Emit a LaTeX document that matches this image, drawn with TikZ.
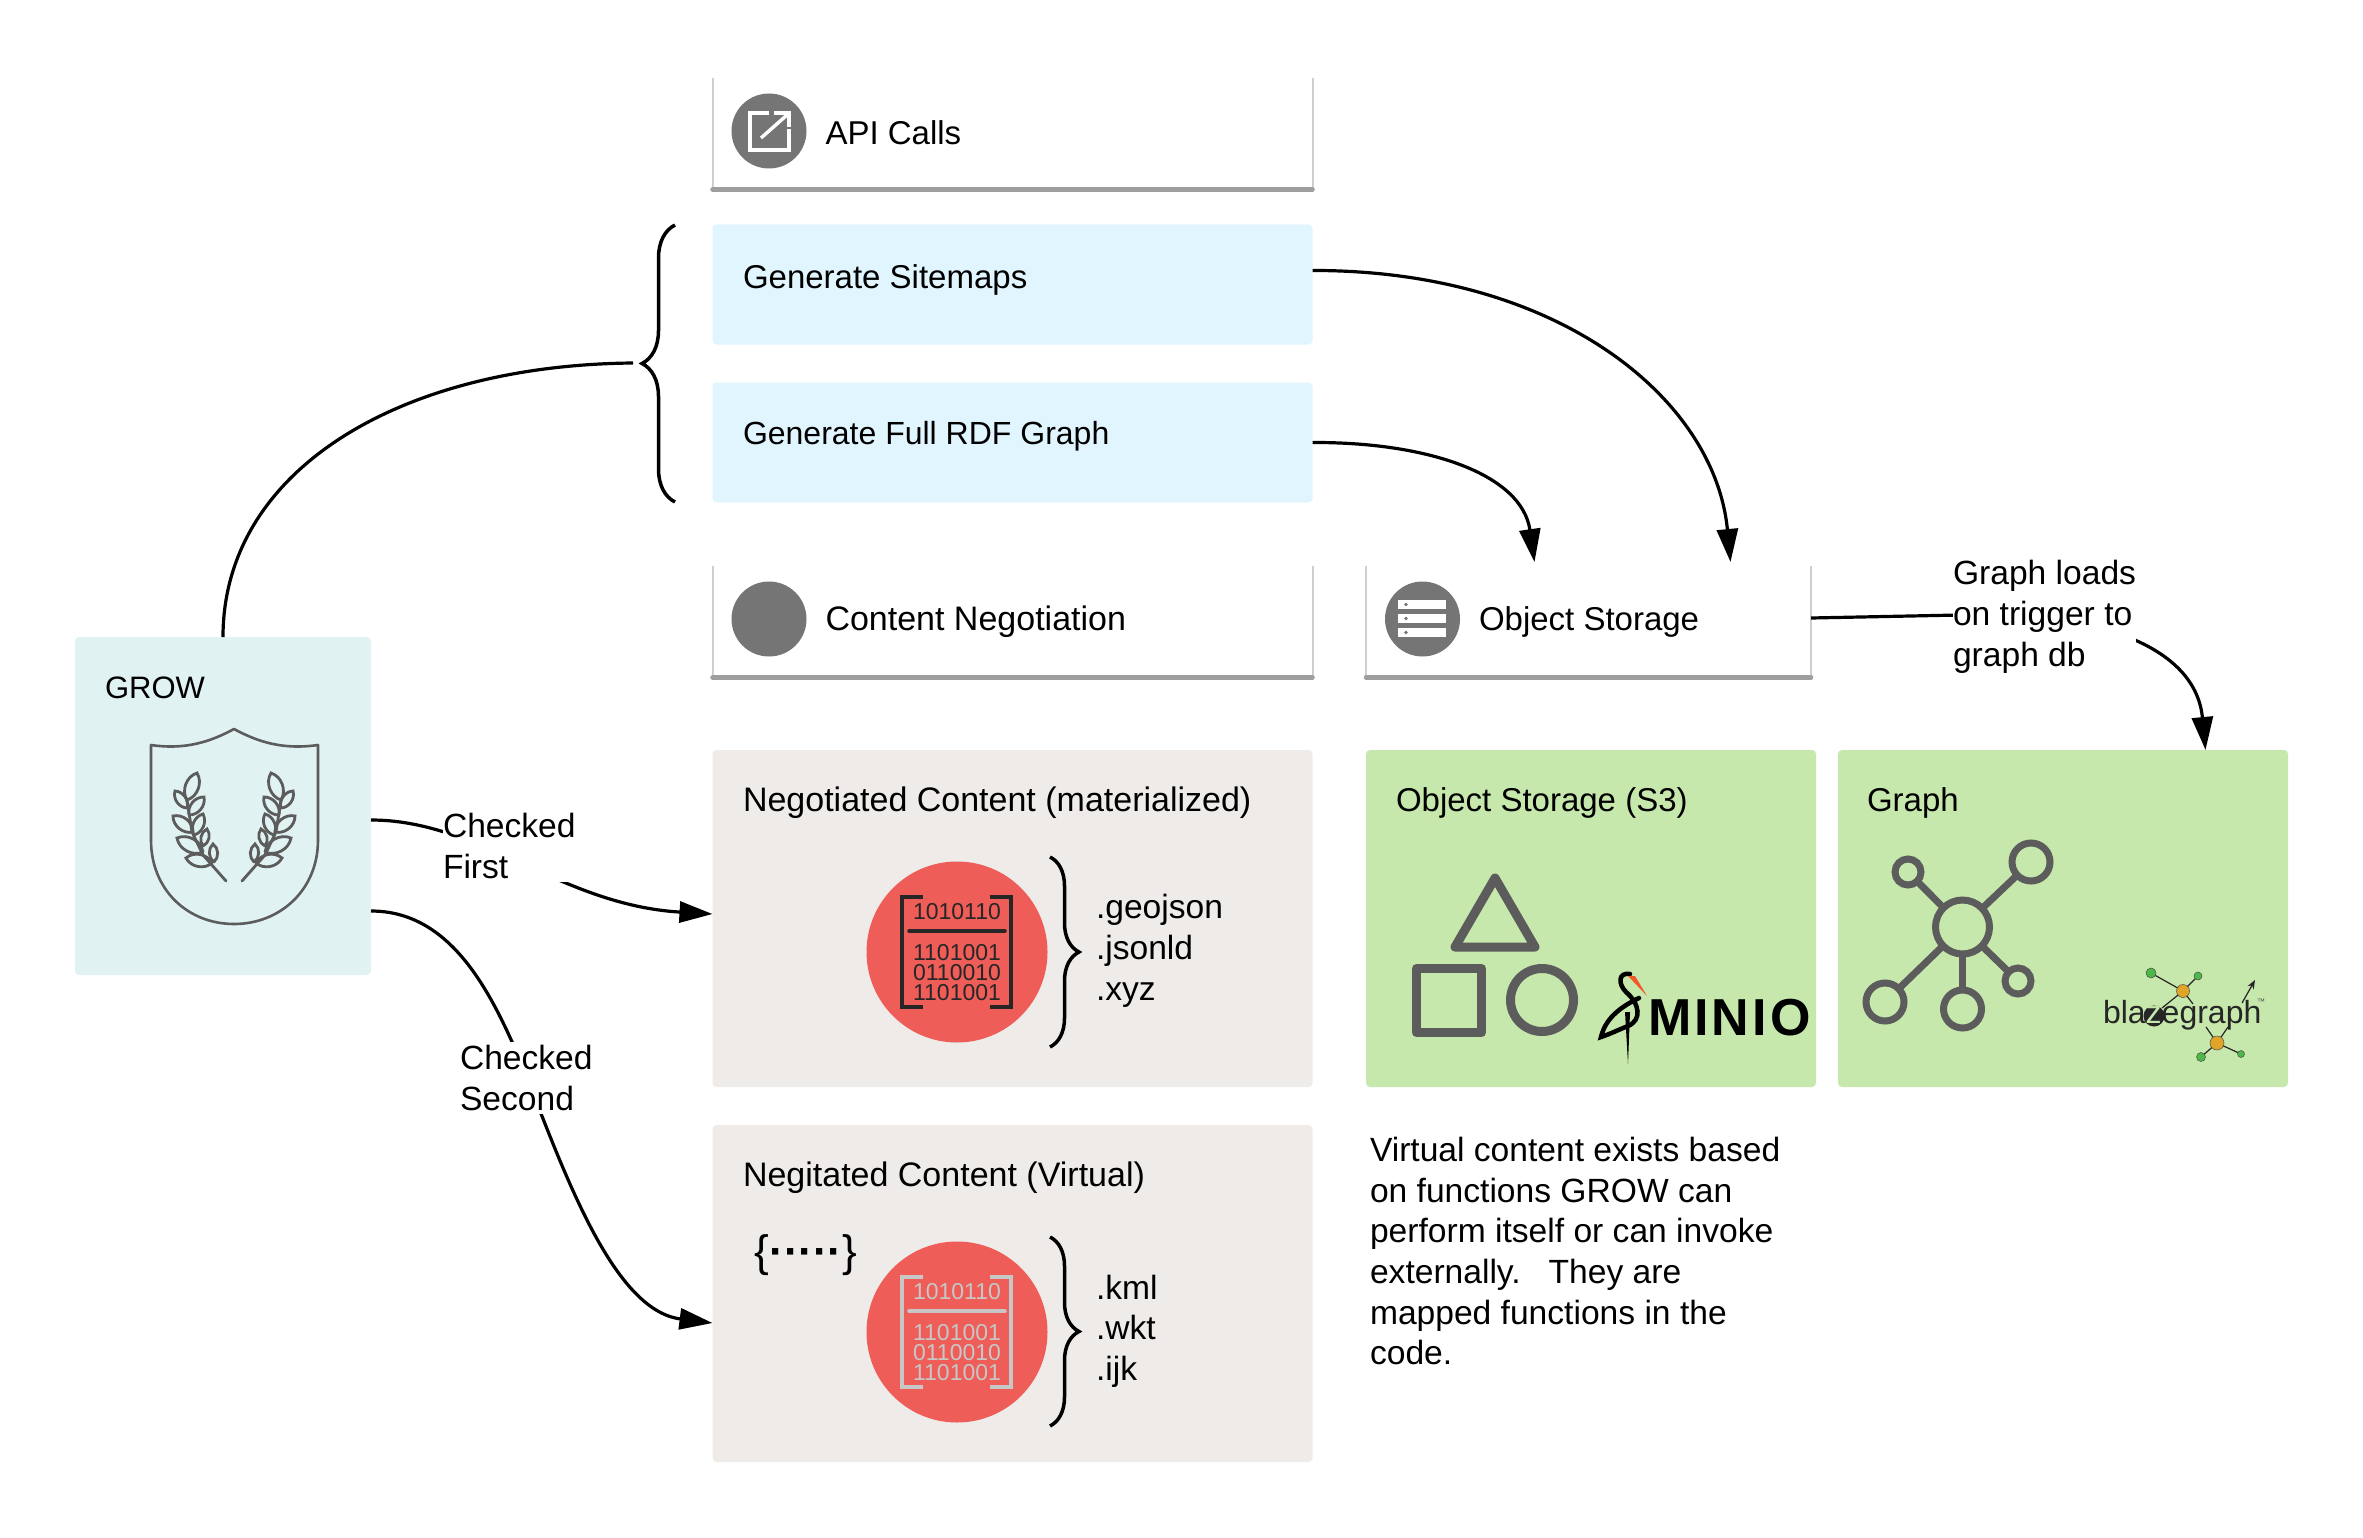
\documentclass[tikz,border=0pt]{standalone}
\usepackage{fontspec}
\setmainfont{Liberation Sans}
\usetikzlibrary{positioning, arrows.meta, calc, decorations.pathreplacing}
\definecolor{GrowTeal}{HTML}{E0F2F1}
\definecolor{ActionBlue}{HTML}{E1F5FE}
\definecolor{ContentGrey}{HTML}{EFEBE9}
\definecolor{StoreGreen}{HTML}{C7E8AC}
\definecolor{DiscRed}{HTML}{EE5D57}
\definecolor{IconGrey}{HTML}{757575}
\definecolor{ShapeGrey}{HTML}{5C5C5C}
\definecolor{EdgeGrey}{HTML}{9E9E9E}
\definecolor{SideGrey}{HTML}{CFCFCF}
\definecolor{BlazeOrange}{HTML}{E0A526}
\definecolor{BlazeGreen}{HTML}{4DB848}
\definecolor{BeakOrange}{HTML}{F0592A}

\begin{document}
\begin{tikzpicture}[
    x=1pt, y=-1pt,
    every node/.style={inner sep=0pt, outer sep=0pt},
    panel/.style={rounded corners=4pt, minimum width=600pt},
    actionbox/.style={panel, fill=ActionBlue, minimum height=120pt},
    contentbox/.style={panel, fill=ContentGrey, minimum height=337pt},
    storebox/.style={panel, fill=StoreGreen, minimum width=450pt, minimum height=337pt},
    growbox/.style={panel, fill=GrowTeal, minimum width=296pt, minimum height=338pt},
    card/.style={fill=white, minimum width=600pt, minimum height=114pt},
    carddisc/.style={circle, fill=IconGrey, minimum size=75pt},
    title/.style={font=\fontsize{33}{40}\selectfont, anchor=base west},
    titlewide/.style={title, font=\fontsize{34}{40}\selectfont},
    cardtitle/.style={font=\fontsize{33}{40}\selectfont},
    note/.style={font=\fontsize{33.6}{40.7}\selectfont, align=left},
    label/.style={note, fill=white, anchor=west, inner ysep=3pt},
    arr/.style={-{Stealth[length=33pt, width=21pt, inset=0pt]}, line width=3.2pt},
    plainedge/.style={line width=3.2pt},
    curly/.style={decorate, line width=3.5pt, decoration={brace, amplitude=33pt}},
    curlysmall/.style={curly, decoration={brace, amplitude=29pt}},
    bits/.style={font=\fontsize{23}{23}\selectfont},
    shapeline/.style={draw=ShapeGrey, line width=9pt, line join=round},
    hubnode/.style={circle, draw=ShapeGrey, line width=7pt, fill=StoreGreen},
    blazeedge/.style={line width=1.2pt, draw=black!85},
    blazehub/.style={circle, fill=BlazeOrange, draw=black!70, line width=0.5pt},
    blazeleaf/.style={circle, fill=BlazeGreen, draw=black!70, line width=0.5pt},
    wheat/.style={draw=ShapeGrey, line width=2.8pt, line cap=round}
]
\useasboundingbox (0,0) rectangle (2363,1538);

% Cards with a top open edge
\node[card] (apicard) at (1012.5,131) {};
\node[card] (negcard) at (1012.5,619) {};
\node[card, minimum width=445pt] (objcard) at (1588.5,619) {};
\foreach \c in {apicard, negcard, objcard} {
    \draw[SideGrey, line width=2pt] ([yshift=-4pt]\c.north west) -- (\c.south west);
    \draw[SideGrey, line width=2pt] ([yshift=-4pt]\c.north east) -- (\c.south east);
    \draw[EdgeGrey, line width=4.5pt, line cap=round] ([yshift=-1.5pt]\c.south west) -- ([yshift=-1.5pt]\c.south east);
}
\node[carddisc, right=19pt of apicard.west] (apidisc) {};
\node[cardtitle, right=19pt of apidisc, yshift=-1.5pt] (apitext) {API Calls};
\node[carddisc, right=19pt of negcard.west] (negdisc) {};
\node[cardtitle, font=\fontsize{34}{40}\selectfont, right=19pt of negdisc, yshift=-3pt] (negtext) {Content Negotiation};
\node[carddisc, right=19pt of objcard.west] (objdisc) {};
\node[cardtitle, right=19pt of objdisc, yshift=-3pt] (objtext) {Object Storage};

% API icon
\draw[white, line width=3.4pt] (769,113) -- (750,113) -- (750,150) -- (789,150) -- (789,129);
\draw[white, line width=3.4pt] (761,138) -- (787,115);
\draw[white, line width=3.4pt] (774,113) -- (789,113) -- (789,127);

% Server icon
\foreach \ry in {604.5, 618.5, 632.5} {
    \fill[white] (1398,\ry-4.5) rectangle (1446,\ry+4.5);
    \fill[IconGrey] (1406,\ry) circle (1.8);
}

% Action boxes
\node[actionbox] (sitemaps) at (1012.5,284.5) {};
\node[actionbox, below=38pt of sitemaps] (rdf) {};
\node[title] (sitemapstext) at (743,288) {Generate Sitemaps};
\node[title, font=\fontsize{32}{40}\selectfont] (rdftext) at (743,444) {Generate Full RDF Graph};
\draw[curly] (675,502) -- (675,225);
\coordinate (bracetip) at (633,363);

% Grow
\node[growbox] (grow) at (223,806) {};
\node[title, font=\fontsize{31}{40}\selectfont] (growtext) at (105,698) {GROW};
\draw[draw=ShapeGrey, line width=2.6pt, line join=round] (151,745) .. controls (185,750) and (210,742) .. (234,729)
    .. controls (258,742) and (283,750) .. (318,745) -- (318,840)
    .. controls (318,890) and (280,924) .. (234,924) .. controls (188,924) and (151,890) .. (151,840) -- cycle;
\foreach \sx/\fx in {0/1, 468/-1} {
    \begin{scope}[shift={(\sx,0)}, xscale=\fx]
        \draw[wheat] (226,881) -- (203,855) -- (192,832) -- (187,800);
        \foreach \bx/\by/\tx/\ty in {187/800/197/773, 187/808/175/791, 189/815/204/797, 193/832/173/816,
            194/835/203/814, 203/852/177/838, 203/846/207/829, 212/863/186/858, 214/862/213/844} {
            \draw[wheat] (\bx,\by) to[bend left=52] (\tx,\ty) to[bend left=52] (\bx,\by);
        }
    \end{scope}
}

% Content boxes
\node[contentbox] (matbox) at (1012.5,918.5) {};
\node[contentbox, below=38pt of matbox] (virtbox) {};
\node[titlewide] (mattext) at (743,811) {Negotiated Content (materialized)};
\node[titlewide] (virttext) at (743,1186) {Negitated Content (Virtual)};
\foreach \cy/\col/\nm in {952/black!85/mat, 1332/black!22/virt} {
    \node[circle, fill=DiscRed, minimum size=181pt] (\nm disc) at (957,\cy) {};
    \begin{scope}[shift={(0,\cy)}]
        \draw[\col, line width=4.5pt, line join=miter] (923,-55) -- (902,-55) -- (902,55) -- (923,55);
        \draw[\col, line width=4.5pt, line join=miter] (990,-55) -- (1011,-55) -- (1011,55) -- (990,55);
        \draw[\col, line width=3.5pt, line cap=round] (909,-21) -- (1005,-21);
        \foreach \row/\dy/\val in {a/-40/1010110, b/1/1101001, c/21/0110010, d/41/1101001} {
            \node[bits, text=\col] (\nm\row) at (957,\dy) {\val};
        }
    \end{scope}
}
\draw[curlysmall] (1050,857) -- (1050,1047);
\draw[curlysmall] (1050,1237) -- (1050,1426);
\node[note, anchor=west] (matformats) at (1096,951) {.geojson\\.jsonld\\.xyz};
\node[note, anchor=west] (virtformats) at (1096,1331) {.kml\\.wkt\\.ijk};
\node[font=\fontsize{44}{44}\selectfont] (funcmark) at (806,1255) {\{{\bfseries ·····}\}};

% Storage boxes
\node[storebox] (s3box) at (1591,918.5) {};
\node[storebox, right=22pt of s3box] (graphbox) {};
\node[title] (s3text) at (1396,811) {Object Storage (S3)};
\node[title] (graphtext) at (1867,811) {Graph};

% Shapes
\draw[shapeline] (1495,878) -- (1535,947) -- (1455,947) -- cycle;
\draw[shapeline] (1416.5,968.5) rectangle (1481.5,1032.5);
\draw[shapeline] (1542,1000) circle (31.5);

% Minio mark
\node[font=\bfseries\fontsize{52}{52}\selectfont\addfontfeatures{LetterSpace=6}, anchor=base west] (minio) at (1648,1035) {MINIO};
\draw[line width=4.5pt, line cap=round] (1630,974) .. controls (1618,972) and (1618,984) .. (1626,992)
    .. controls (1640,1004) and (1642,1020) .. (1628,1026) .. controls (1618,1030) and (1610,1034) .. (1601,1037)
    .. controls (1605,1020) and (1618,1008) .. (1639,998);
\fill (1625,1012) -- (1630,1012) -- (1628,1064) -- cycle;
\fill[BeakOrange] (1628,976) -- (1647,996) -- (1635,976) -- cycle;

% Graph icon
\node[hubnode, minimum size=54pt] (hub) at (1962.5,927) {};
\foreach \nm/\px/\py/\sz in {ur/2031/862/38, ul/1908/872/26, ll/1885/1002/38, lb/1962.5/1009/38, lr/2018/981/26} {
    \node[hubnode, minimum size=\sz pt] (\nm) at (\px,\py) {};
    \draw[ShapeGrey, line width=7pt] (hub) -- (\nm);
}

% Blazegraph mark
\node[blazehub, minimum size=13pt] (bhuba) at (2183,991) {};
\node[blazehub, minimum size=14pt] (bhubb) at (2217,1043) {};
\foreach \nm/\px/\py/\sz/\hb in {bg1/2151/973/10/bhuba, bg2/2198/976/8/bhuba, bg3/2201/1057/9/bhubb, bg4/2241/1054/7/bhubb} {
    \node[blazeleaf, minimum size=\sz pt] (\nm) at (\px,\py) {};
    \draw[blazeedge] (\hb) -- (\nm);
}
\coordinate (bza) at (2162,1008);
\coordinate (bzb) at (2193,1004);
\coordinate (bzc) at (2206,1027);
\coordinate (bzd) at (2228,1027);
\coordinate (btipa) at (2242,1003);
\coordinate (btipb) at (2255,980);
\draw[blazeedge] (bhuba) -- (bza);
\draw[blazeedge] (bhuba) -- (bzb);
\draw[blazeedge] (bhubb) -- (bzc);
\draw[blazeedge] (bhubb) -- (bzd);
\draw[blazeedge, -{Stealth[length=9pt, width=7pt]}] (btipa) -- (btipb);
\fill[black!85] (2154,1016) circle (10.5);
\node[font=\fontsize{32}{32}\selectfont, text=black!85, anchor=base west] (blazetext) at (2103,1023) {bla{\color{StoreGreen}z}egraph};
\node[font=\fontsize{8}{8}\selectfont, text=black!70] (blazetm) at (2261,1002) {™};

% Connectors
\coordinate (sitemapsin) at ([xshift=142pt]objcard.north);
\coordinate (rdfin) at ([xshift=-54pt]objcard.north);
\coordinate (graphin) at ([xshift=142.5pt]graphbox.north);
\coordinate (loadbend) at (1960,615);
\coordinate (secondmid) at (520,1060);
\draw[plainedge] (grow.north) .. controls +(0,-167) and (400,365) .. (bracetip);
\draw[arr] ([yshift=14pt]sitemaps.east) .. controls (1560,270) and (1715,400) .. (sitemapsin);
\draw[arr] (rdf.east) .. controls (1430,442) and (1522,475) .. (rdfin);
\draw[arr] ([yshift=1pt]objcard.east) -- (loadbend) .. controls (2080,610) and (2195,640) .. (graphin);
\draw[arr] ([yshift=-14pt]grow.east) .. controls (480,820) and (560,905) .. (matbox.west |- 0,914);
\draw[arr] ([yshift=-105pt]grow.east) .. controls (450,911) and (490,990) .. (secondmid)
    .. controls (560,1160) and (610,1310) .. (virtbox.west |- 0,1323);

% Labels
\node[label, text width=132pt] (firstlabel) at (443,846) {Checked\\First};
\node[label] (secondlabel) at (460,1078) {Checked\\Second};
\node[label] (loadlabel) at (1953,617) {Graph loads\\on trigger to\\graph db};
\node[note, anchor=north west] (virtualnote) at (1370,1137) {Virtual content exists based\\on functions GROW can\\perform itself or can invoke\\externally.\ \ \ They are\\mapped functions in the\\code.};

\end{tikzpicture}
\end{document}
